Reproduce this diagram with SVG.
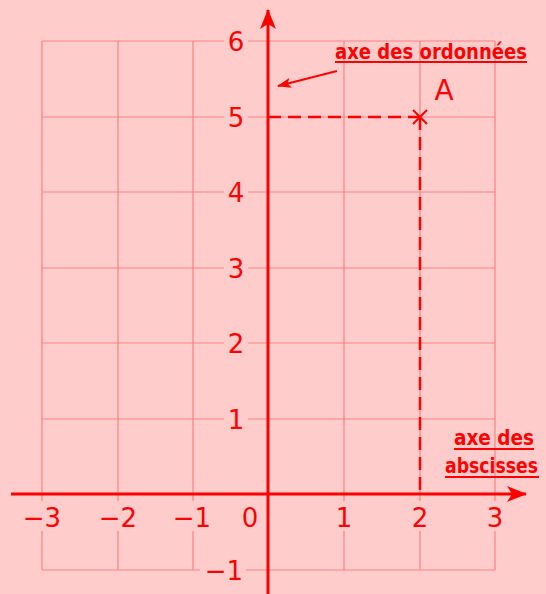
<svg xmlns="http://www.w3.org/2000/svg" width="546" height="594" viewBox="0 0 546 594">
<style>
.grid{stroke:#FF8080;stroke-width:1.2;fill:none}
.axis{stroke:#FF0000;stroke-width:3;fill:none}
.lab{font-family:"DejaVu Sans","Liberation Sans",sans-serif;font-size:26px;fill:#FF0000;text-anchor:middle}
.bg{fill:#FFCCCC}
.title{font-family:"DejaVu Sans Condensed","DejaVu Sans",sans-serif;font-weight:bold;font-size:22px;fill:#FF0000}
.ul{stroke:#FF0000;stroke-width:2.2}
.dash{stroke:#FF0000;stroke-width:2.5;stroke-dasharray:13,7;fill:none}
</style>
<defs>
<marker id="ah" viewBox="0 0 20 16" refX="19" refY="8" markerWidth="20" markerHeight="16" markerUnits="userSpaceOnUse" orient="auto">
<path d="M0,0 L20,8 L0,16 L5,8 Z" fill="#FF0000"/>
</marker>
<marker id="ahs" viewBox="0 0 14 10" refX="13" refY="5" markerWidth="14" markerHeight="10" markerUnits="userSpaceOnUse" orient="auto">
<path d="M0,0 L14,5 L0,10 L3,5 Z" fill="#FF0000"/>
</marker>
</defs>
<rect width="546" height="594" fill="#FFCCCC"/>
<g id="grid">
<path class="grid" d="M42,41V570 M118,41V570 M193,41V570 M344,41V570 M420,41V570 M495,41V570 M42,41H495 M42,117H495 M42,192H495 M42,268H495 M42,343H495 M42,419H495 M42,570H495"/>
</g>
<g id="labels">
<rect class="bg" x="224" y="27" width="24" height="28"/>
<rect class="bg" x="224" y="103" width="24" height="28"/>
<rect class="bg" x="224" y="178" width="24" height="28"/>
<rect class="bg" x="224" y="254" width="24" height="28"/>
<rect class="bg" x="224" y="329" width="24" height="28"/>
<rect class="bg" x="224" y="405" width="24" height="28"/>
<rect class="bg" x="200" y="556" width="46" height="28"/>
<rect class="bg" x="20" y="501" width="44" height="30"/>
<rect class="bg" x="96" y="501" width="44" height="30"/>
<rect class="bg" x="171" y="501" width="44" height="30"/>
<rect class="bg" x="333" y="501" width="22" height="30"/>
<rect class="bg" x="409" y="501" width="22" height="30"/>
<rect class="bg" x="484" y="501" width="22" height="30"/>
<text class="lab" x="236" y="51">6</text>
<text class="lab" x="236" y="127">5</text>
<text class="lab" x="236" y="202">4</text>
<text class="lab" x="236" y="278">3</text>
<text class="lab" x="236" y="353">2</text>
<text class="lab" x="236" y="429">1</text>
<text class="lab" x="224" y="580">−1</text>
<text class="lab" x="42" y="527">−3</text>
<text class="lab" x="118" y="527">−2</text>
<text class="lab" x="192" y="527">−1</text>
<text class="lab" x="250" y="527">0</text>
<text class="lab" x="344" y="527">1</text>
<text class="lab" x="420" y="527">2</text>
<text class="lab" x="495" y="527">3</text>
</g>
<g id="axes">
<line class="axis" x1="11" y1="494" x2="526" y2="494" marker-end="url(#ah)"/>
<line class="axis" x1="268" y1="594" x2="268" y2="10" marker-end="url(#ah)"/>
</g>
<g id="connectors">
<path class="dash" d="M268,117H420 M420,117V494"/>
<line x1="337" y1="71" x2="278" y2="86" stroke="#FF0000" stroke-width="2" marker-end="url(#ahs)"/>
</g>
<g id="pointA">
<path d="M413,110L427,124 M427,110L413,124" stroke="#FF0000" stroke-width="2"/>
<text x="444" y="100" font-family="DejaVu Sans, sans-serif" font-size="28" fill="#FF0000" text-anchor="middle">A</text>
</g>
<g id="title-ordonnees">
<text class="title" x="335" y="59" textLength="192" lengthAdjust="spacingAndGlyphs">axe des ordonnées</text>
<line class="ul" x1="335" y1="62" x2="527" y2="62"/>
</g>
<g id="title-abscisses">
<text class="title" x="454" y="445" textLength="80" lengthAdjust="spacingAndGlyphs">axe des</text>
<line class="ul" x1="454" y1="449" x2="534" y2="449"/>
<text class="title" x="445" y="473" font-size="20" textLength="93" lengthAdjust="spacingAndGlyphs" style="font-size:21px">abscisses</text>
<line class="ul" x1="445" y1="477" x2="539" y2="477"/>
</g>
</svg>
